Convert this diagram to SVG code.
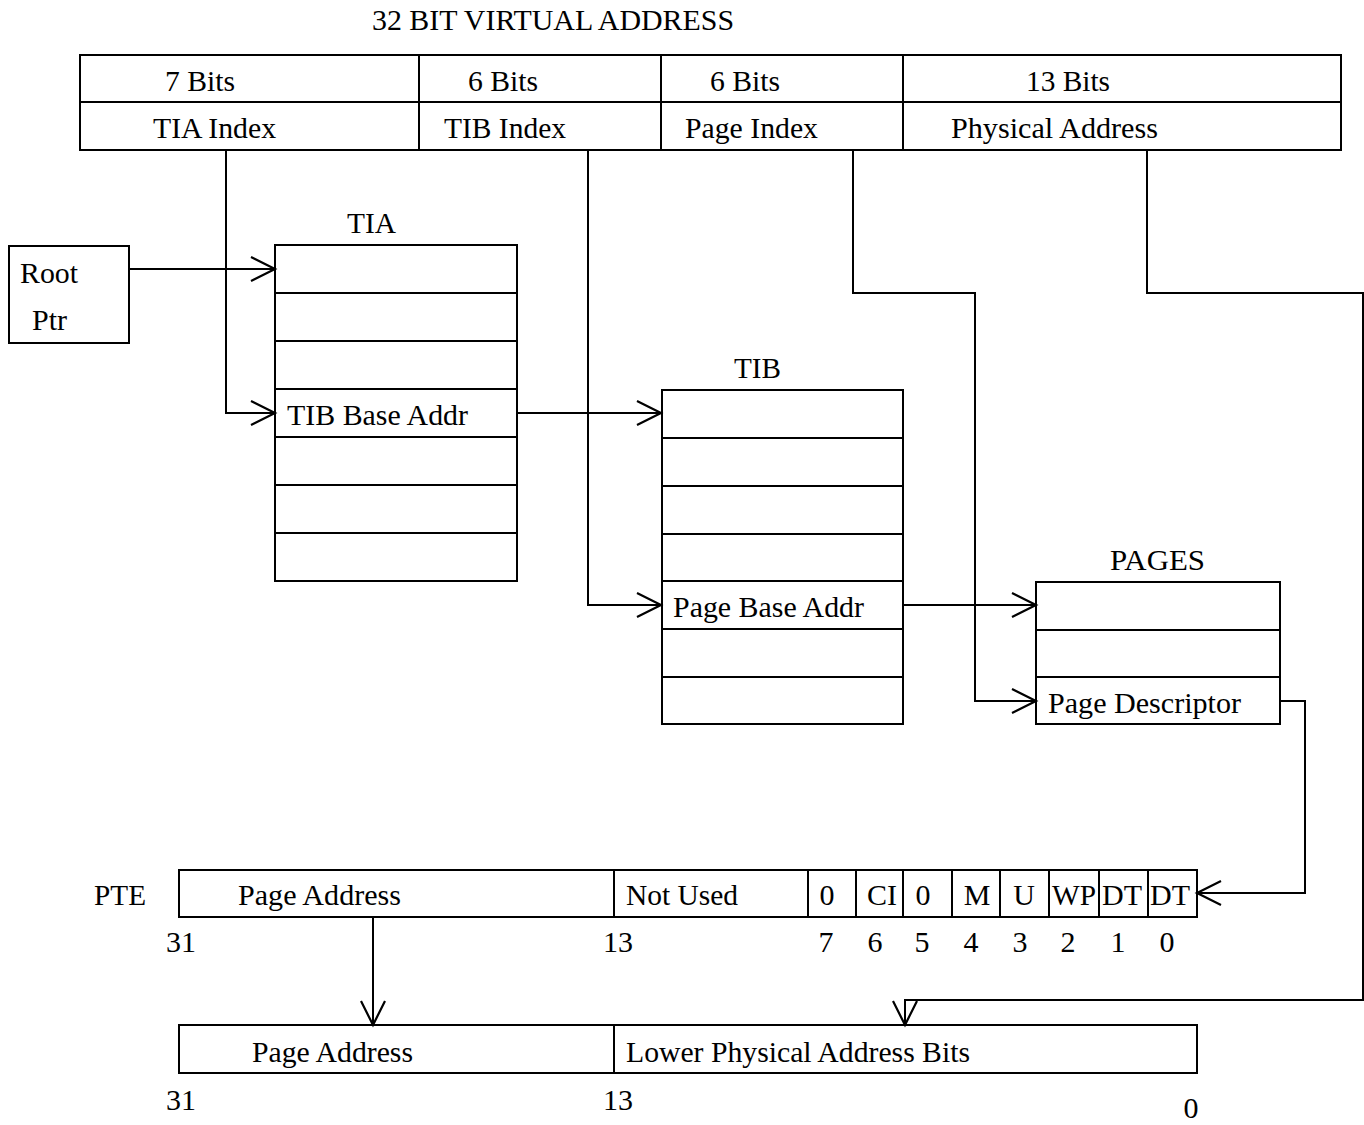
<svg xmlns="http://www.w3.org/2000/svg" width="1364" height="1125" viewBox="0 0 1364 1125">
<defs>
<style>
text{font-family:"Liberation Serif","Times New Roman",serif;font-size:30px;fill:#000}
.box{fill:#fff;stroke:#000;stroke-width:2}
.ln{fill:none;stroke:#000;stroke-width:2}
.c{text-anchor:middle}
</style>
<marker id="ah" markerUnits="userSpaceOnUse" viewBox="-27 -15 30 30" markerWidth="30" markerHeight="30" refX="0" refY="0" orient="auto">
<path d="M-24,-12 L0,0 L-24,12" fill="none" stroke="#000" stroke-width="2.2"/>
</marker>
</defs>
<rect width="1364" height="1125" fill="#fff"/>

<g id="vaddr">
<text x="372" y="30" textLength="362" lengthAdjust="spacingAndGlyphs">32 BIT VIRTUAL ADDRESS</text>
<rect class="box" x="80" y="55" width="1261" height="95"/>
<path class="ln" d="M80,102 H1341 M419,55 V150 M661,55 V150 M903,55 V150"/>
<text x="165" y="91" textLength="70" lengthAdjust="spacingAndGlyphs">7 Bits</text>
<text x="468" y="91" textLength="70" lengthAdjust="spacingAndGlyphs">6 Bits</text>
<text x="710" y="91" textLength="70" lengthAdjust="spacingAndGlyphs">6 Bits</text>
<text x="1026" y="91" textLength="84" lengthAdjust="spacingAndGlyphs">13 Bits</text>
<text x="153" y="138" textLength="123" lengthAdjust="spacingAndGlyphs">TIA Index</text>
<text x="444" y="138" textLength="122" lengthAdjust="spacingAndGlyphs">TIB Index</text>
<text x="685" y="138" textLength="133" lengthAdjust="spacingAndGlyphs">Page Index</text>
<text x="951" y="138" textLength="207" lengthAdjust="spacingAndGlyphs">Physical Address</text>
</g>

<g id="rootptr">
<rect class="box" x="9" y="246" width="120" height="97"/>
<text x="20" y="283" textLength="58" lengthAdjust="spacingAndGlyphs">Root</text>
<text x="32" y="330" textLength="35" lengthAdjust="spacingAndGlyphs">Ptr</text>
</g>

<g id="tia">
<text x="347" y="233" textLength="49" lengthAdjust="spacingAndGlyphs">TIA</text>
<rect class="box" x="275" y="245" width="242" height="336"/>
<path class="ln" d="M275,293 H517 M275,341 H517 M275,389 H517 M275,437 H517 M275,485 H517 M275,533 H517"/>
<text x="287" y="425" textLength="181" lengthAdjust="spacingAndGlyphs">TIB Base Addr</text>
</g>

<g id="tib">
<text x="734" y="378" textLength="47" lengthAdjust="spacingAndGlyphs">TIB</text>
<rect class="box" x="662" y="390" width="241" height="334"/>
<path class="ln" d="M662,438 H903 M662,486 H903 M662,534 H903 M662,581 H903 M662,629 H903 M662,677 H903"/>
<text x="673" y="617" textLength="191" lengthAdjust="spacingAndGlyphs">Page Base Addr</text>
</g>

<g id="pages">
<text x="1110" y="570" textLength="95" lengthAdjust="spacingAndGlyphs">PAGES</text>
<rect class="box" x="1036" y="582" width="244" height="142"/>
<path class="ln" d="M1036,630 H1280 M1036,677 H1280"/>
<text x="1048" y="713" textLength="193" lengthAdjust="spacingAndGlyphs">Page Descriptor</text>
</g>

<g id="pte">
<text x="94" y="905" textLength="52" lengthAdjust="spacingAndGlyphs">PTE</text>
<rect class="box" x="179" y="870" width="1018" height="47"/>
<path class="ln" d="M614,870 V917 M808,870 V917 M856,870 V917 M903,870 V917 M952,870 V917 M1000,870 V917 M1049,870 V917 M1099,870 V917 M1148,870 V917"/>
<text x="238" y="905" textLength="163" lengthAdjust="spacingAndGlyphs">Page Address</text>
<text x="626" y="905" textLength="112" lengthAdjust="spacingAndGlyphs">Not Used</text>
<text x="827" y="905" class="c">0</text>
<text x="882" y="905" class="c">CI</text>
<text x="923" y="905" class="c">0</text>
<text x="977" y="905" class="c">M</text>
<text x="1024" y="905" class="c">U</text>
<text x="1074" y="905" class="c" textLength="44" lengthAdjust="spacingAndGlyphs">WP</text>
<text x="1122" y="905" class="c" textLength="40" lengthAdjust="spacingAndGlyphs">DT</text>
<text x="1170" y="905" class="c" textLength="40" lengthAdjust="spacingAndGlyphs">DT</text>
<text x="181" y="952" class="c">31</text>
<text x="618" y="952" class="c">13</text>
<text x="826" y="952" class="c">7</text>
<text x="875" y="952" class="c">6</text>
<text x="922" y="952" class="c">5</text>
<text x="971" y="952" class="c">4</text>
<text x="1020" y="952" class="c">3</text>
<text x="1068" y="952" class="c">2</text>
<text x="1118" y="952" class="c">1</text>
<text x="1167" y="952" class="c">0</text>
</g>

<g id="physaddr">
<rect class="box" x="179" y="1025" width="1018" height="48"/>
<path class="ln" d="M614,1025 V1073"/>
<text x="252" y="1062" textLength="161" lengthAdjust="spacingAndGlyphs">Page Address</text>
<text x="626" y="1062" textLength="344" lengthAdjust="spacingAndGlyphs">Lower Physical Address Bits</text>
<text x="181" y="1110" class="c">31</text>
<text x="618" y="1110" class="c">13</text>
<text x="1191" y="1118" class="c">0</text>
</g>

<g id="connectors">
<path class="ln" d="M129,269 H275" marker-end="url(#ah)"/>
<path class="ln" d="M226,150 V413 H275" marker-end="url(#ah)"/>
<path class="ln" d="M517,413 H661" marker-end="url(#ah)"/>
<path class="ln" d="M588,150 V605 H661" marker-end="url(#ah)"/>
<path class="ln" d="M903,605 H1036" marker-end="url(#ah)"/>
<path class="ln" d="M853,150 V293 H975 V701 H1036" marker-end="url(#ah)"/>
<path class="ln" d="M1280,701 H1305 V893 H1197" marker-end="url(#ah)"/>
<path class="ln" d="M373,917 V1025" marker-end="url(#ah)"/>
<path class="ln" d="M1147,150 V293 H1363 V1000 H905 V1025" marker-end="url(#ah)"/>
</g>
</svg>
